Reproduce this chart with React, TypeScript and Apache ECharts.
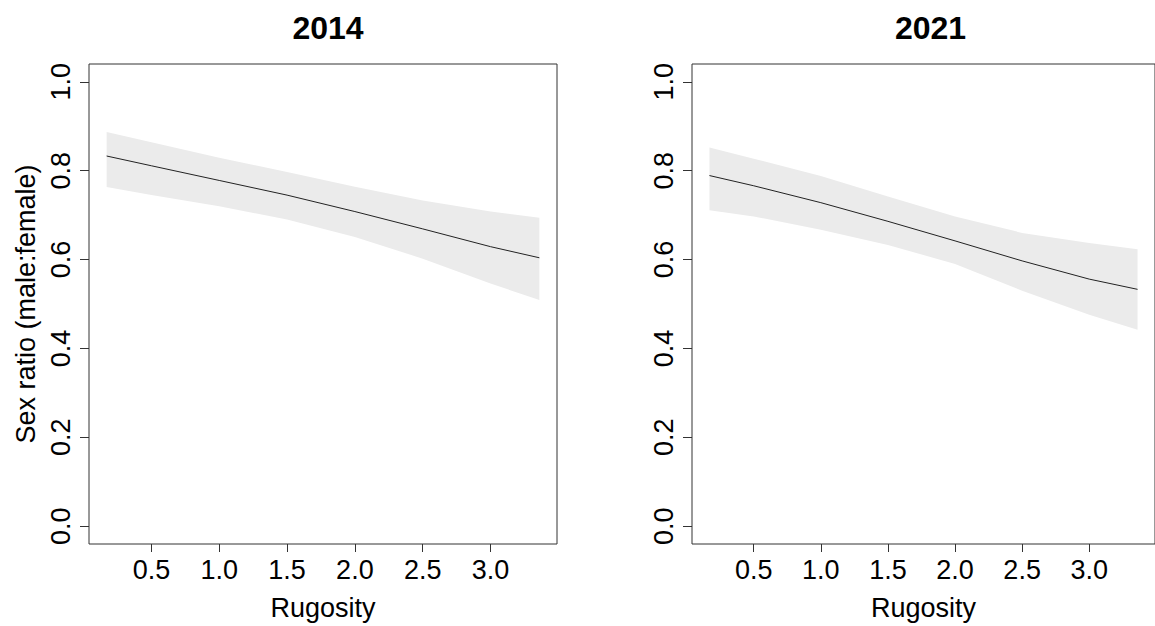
import React, { useEffect, useRef } from "react";
import * as echarts from "echarts";

const rugosity = [0.17, 0.5, 1.0, 1.5, 2.0, 2.5, 3.0, 3.36];

const fit2014 = [0.833, 0.811, 0.778, 0.745, 0.708, 0.669, 0.629, 0.604];
const lower2014 = [0.763, 0.745, 0.72, 0.69, 0.651, 0.602, 0.546, 0.509];
const upper2014 = [0.887, 0.864, 0.829, 0.797, 0.764, 0.733, 0.708, 0.694];

const fit2021 = [0.789, 0.766, 0.728, 0.686, 0.642, 0.597, 0.556, 0.533];
const lower2021 = [0.711, 0.697, 0.667, 0.633, 0.59, 0.53, 0.476, 0.442];
const upper2021 = [0.852, 0.827, 0.788, 0.742, 0.697, 0.66, 0.637, 0.623];

const xTicks = [0.5, 1.0, 1.5, 2.0, 2.5, 3.0];
const yTicks = [0.0, 0.2, 0.4, 0.6, 0.8, 1.0];

const titles = ["2014", "2021"];
const xName = "Rugosity";
const yName = "Sex ratio (male:female)";

const FONT = "'Liberation Sans', Arial, sans-serif";
const FS = 27;

export default function App() {
  const ref = useRef<HTMLDivElement>(null);

  useEffect(() => {
    if (!ref.current) return;
    const chart = echarts.init(ref.current, null, { renderer: "svg" });

    const grids = [
      { left: 89, top: 64, width: 468, height: 480 },
      { left: 692, top: 64, width: 467, height: 480 },
    ];
    const panels = [
      { fit: fit2014, lower: lower2014, upper: upper2014 },
      { fit: fit2021, lower: lower2021, upper: upper2021 },
    ];

    const xAxes = grids.map((_, i) => ({
      type: "value",
      gridIndex: i,
      min: 0.04,
      max: 3.49,
      name: xName,
      nameLocation: "middle",
      nameGap: 50,
      nameTextStyle: { fontFamily: FONT, fontSize: FS, color: "#000" },
      axisLine: { show: false, onZero: false },
      splitLine: { show: false },
      axisTick: {
        show: true,
        inside: false,
        length: 8,
        customValues: xTicks,
        lineStyle: { color: "#333", width: 1 },
      },
      axisLabel: {
        show: true,
        margin: 12,
        customValues: xTicks,
        formatter: (v: number) => v.toFixed(1),
        fontFamily: FONT,
        fontSize: FS,
        color: "#000",
      },
    }));

    const yAxes = grids.map((_, i) => ({
      type: "value",
      gridIndex: i,
      min: -0.04,
      max: 1.04,
      name: i === 0 ? yName : "",
      nameLocation: "middle",
      nameGap: 50,
      nameRotate: 90,
      nameTextStyle: { fontFamily: FONT, fontSize: FS, color: "#000" },
      axisLine: { show: false, onZero: false },
      splitLine: { show: false },
      axisTick: {
        show: true,
        inside: false,
        length: 9,
        customValues: yTicks,
        lineStyle: { color: "#333", width: 1 },
      },
      axisLabel: {
        show: true,
        rotate: 90,
        margin: 15,
        customValues: yTicks,
        formatter: (v: number) => v.toFixed(1),
        fontFamily: FONT,
        fontSize: FS,
        color: "#000",
      },
    }));

    const series: any[] = [];
    panels.forEach((p, i) => {
      series.push({
        type: "custom",
        xAxisIndex: i,
        yAxisIndex: i,
        silent: true,
        data: rugosity.map((x, k) => [x, p.lower[k], p.upper[k]]),
        encode: { x: 0, y: [1, 2] },
        renderItem: (params: any, api: any) => {
          if (params.dataIndex !== 0) return { type: "group", children: [] };
          const pts: number[][] = [];
          for (let k = 0; k < rugosity.length; k++) {
            pts.push(api.coord([rugosity[k], p.upper[k]]));
          }
          for (let k = rugosity.length - 1; k >= 0; k--) {
            pts.push(api.coord([rugosity[k], p.lower[k]]));
          }
          return {
            type: "polygon",
            shape: { points: pts },
            style: { fill: "#EBEBEB", stroke: "none" },
          };
        },
        z: 1,
      });
      series.push({
        type: "line",
        xAxisIndex: i,
        yAxisIndex: i,
        symbol: "none",
        lineStyle: { color: "#222", width: 1 },
        data: p.fit.map((v, k) => [rugosity[k], v]),
        silent: true,
        z: 3,
      });
    });

    chart.setOption({
      animation: false,
      backgroundColor: "#fff",
      title: grids.map((g, i) => ({
        text: titles[i],
        left: g.left + g.width / 2,
        top: 7,
        textAlign: "center",
        textStyle: {
          fontFamily: FONT,
          fontSize: 32,
          fontWeight: "bold",
          color: "#000",
        },
      })),
      grid: grids.map((g) => ({
        ...g,
        show: true,
        borderColor: "#333",
        borderWidth: 1,
        backgroundColor: "transparent",
        containLabel: false,
      })),
      xAxis: xAxes,
      yAxis: yAxes,
      series,
    });

    return () => chart.dispose();
  }, []);

  return (
    <div
      ref={ref}
      style={{ position: "fixed", left: 0, top: 0, width: 1155, height: 626 }}
    />
  );
}
